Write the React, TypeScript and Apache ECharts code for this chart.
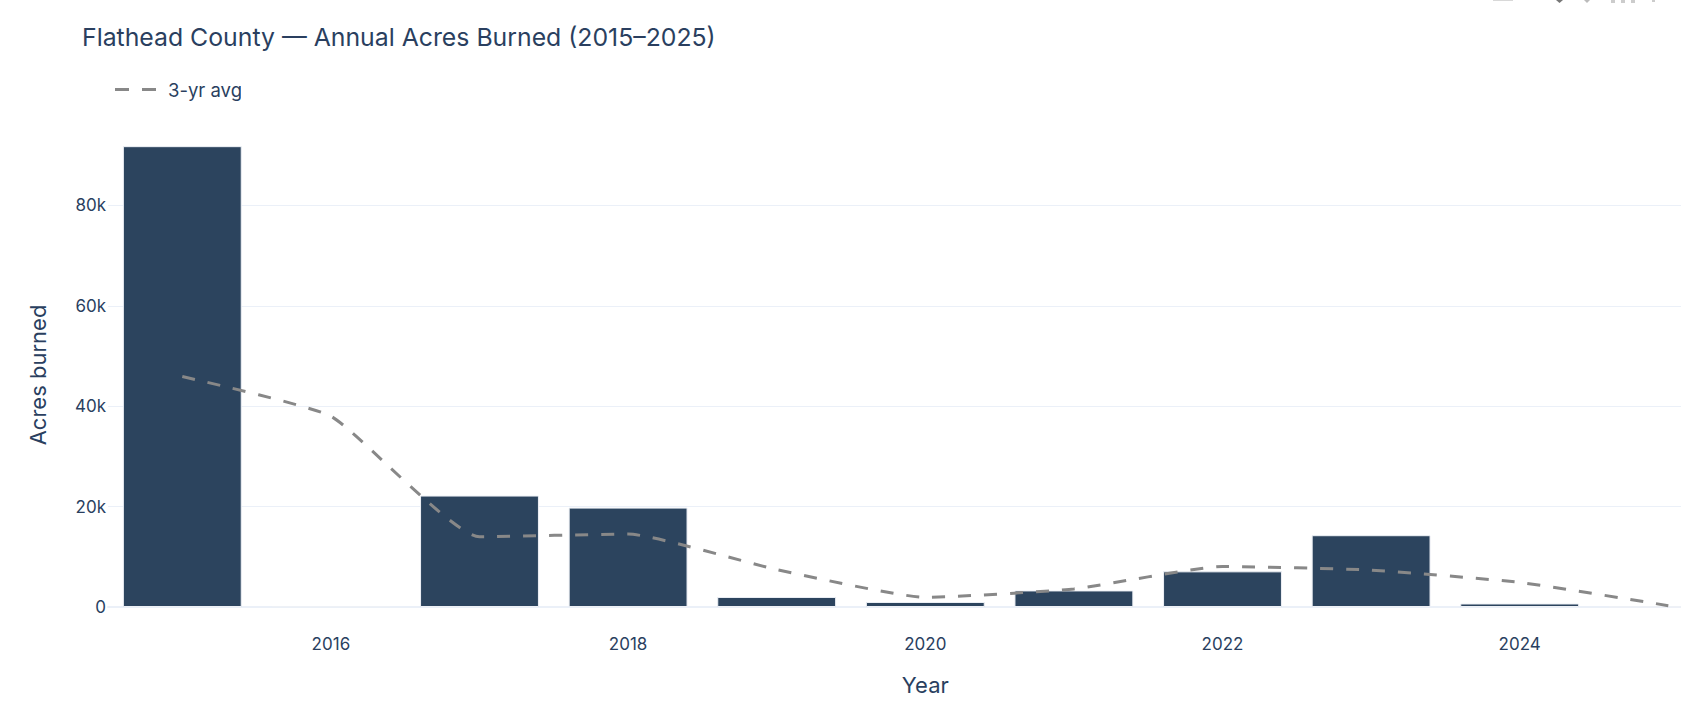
import React, { useEffect, useRef } from "react";
import * as echarts from "echarts";

const years = ["2015","2016","2017","2018","2019","2020","2021","2022","2023","2024","2025"];
const acres = [91800,100,22200,19800,2000,1000,3300,7100,14300,700,50];
const avg3 = [45900,38000,14000,14530,7450,1920,3600,8070,7350,4900,270];
const FONT = "Inter, 'Noto Sans', sans-serif";
const INK = "#2a3f5f";

export default function App() {
  const ref = useRef<HTMLDivElement>(null);
  useEffect(() => {
    const chart = echarts.init(ref.current!, null, { renderer: "svg" });
    chart.setOption({
      animation: false,
      backgroundColor: "#fff",
      textStyle: { fontFamily: FONT },
      title: {
        text: "Flathead County — Annual Acres Burned (2015–2025)",
        left: 82, top: 24, padding: 0,
        textStyle: { fontSize: 24.8, fontWeight: 400, color: INK, fontFamily: FONT },
      },
      legend: {
        data: ["3-yr avg"], left: 115, top: 80, padding: 0,
        itemWidth: 41, itemHeight: 3,
        icon: "path://M0 0H14V3H0Z M27 0H41V3H27Z",
        itemStyle: { color: "#888888", borderWidth: 0 },
        textStyle: { fontSize: 18.5, color: INK, fontFamily: FONT, padding: [0, 0, 0, 7] },
      },
      grid: { left: 108, top: 143, width: 1634.6, height: 464, containLabel: false },
      xAxis: {
        type: "category", data: years,
        name: "Year", nameLocation: "middle", nameGap: 67,
        nameTextStyle: { fontSize: 22, color: INK, fontFamily: FONT, align: "center" },
        axisTick: { show: false },
        axisLine: { show: true, lineStyle: { color: "#ebf0f8", width: 2 } },
        axisLabel: {
          interval: (i: number) => i % 2 === 1,
          fontSize: 17, color: INK, fontFamily: FONT, margin: 28,
        },
      },
      yAxis: {
        type: "value", min: 0, max: 92430, interval: 20000,
        name: "Acres burned", nameLocation: "middle", nameGap: 59,
        nameTextStyle: { fontSize: 22, color: INK, fontFamily: FONT },
        axisLine: { show: false }, axisTick: { show: false },
        axisLabel: {
          showMaxLabel: false, fontSize: 17, color: INK, fontFamily: FONT, margin: 2,
          formatter: (v: number) => (v === 0 ? "0" : `${v / 1000}k`),
        },
        splitLine: { show: true, showMaxLine: false, showMinLine: false, lineStyle: { color: "#ebf0f8", width: 1 } },
      },
      series: [
        {
          name: "Acres burned", type: "bar", data: acres, barWidth: "80%", z: 2,
          itemStyle: { color: "#2c445e", borderColor: "#eef1f6", borderWidth: 1 },
        },
        {
          name: "3-yr avg", type: "line", data: avg3, symbol: "none", smooth: 0.15, z: 3,
          lineStyle: { color: "#888888", width: 3, type: [13, 13] },
          itemStyle: { color: "#888888" },
        },
      ],
      graphic: [
        { type: "rect", z: 100, shape: { x: 241, y: 75, width: 60, height: 35 }, style: { fill: "#fff" } },
        { type: "rect", z: 100, shape: { x: 1493, y: 0, width: 20, height: 1 }, style: { fill: "#d8d8d8" } },
        { type: "polygon", z: 100, shape: { points: [[1556, 0], [1563, 0], [1559.5, 3]] }, style: { fill: "#777" } },
        { type: "polygon", z: 100, shape: { points: [[1584, 0], [1590, 0], [1587, 3]] }, style: { fill: "#bbb" } },
        { type: "rect", z: 100, shape: { x: 1611, y: 0, width: 4, height: 3 }, style: { fill: "#ccc" } },
        { type: "rect", z: 100, shape: { x: 1621, y: 0, width: 4, height: 3 }, style: { fill: "#ccc" } },
        { type: "rect", z: 100, shape: { x: 1631, y: 0, width: 4, height: 3 }, style: { fill: "#ccc" } },
        { type: "rect", z: 100, shape: { x: 1652, y: 0, width: 3, height: 2 }, style: { fill: "#ccc" } },
      ],
    });
    return () => chart.dispose();
  }, []);
  return (
    <div style={{ position: "fixed", left: 0, top: 0, width: 1681, height: 723, overflow: "hidden" }}>
      <div ref={ref} style={{ width: 1800, height: 723 }} />
    </div>
  );
}
